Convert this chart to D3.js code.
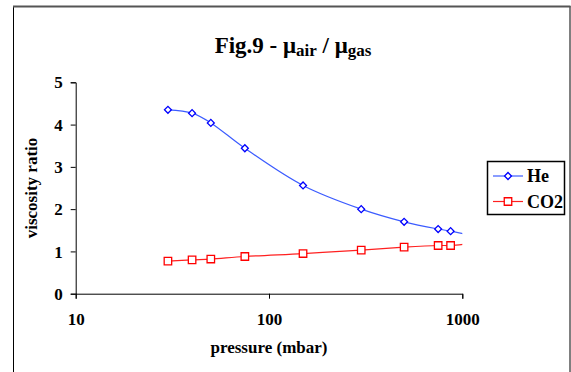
<!DOCTYPE html>
<html>
<head>
<meta charset="utf-8">
<script src="https://cdn.jsdelivr.net/npm/d3@7"></script>
<style>
  body { margin: 0; background: #fff; }
  svg text { font-family: "Liberation Serif", "Times New Roman", serif; font-weight: bold; fill: #000; }
</style>
</head>
<body>
<script>
// Data
var pressure = [30, 40, 50, 75, 150, 300, 500, 750, 870, 1013];
var heRatio  = [4.35, 4.27, 4.04, 3.44, 2.56, 2.00, 1.70, 1.53, 1.48, 1.42];
var co2Ratio = [0.77, 0.80, 0.82, 0.88, 0.95, 1.03, 1.10, 1.14, 1.14, 1.17];
var xTicks = [10, 100, 1000];
var yTicks = [0, 1, 2, 3, 4, 5];

var svgWidth = 571;
var svgHeight = 372;

var plot = { left: 75.7, right: 462.3, top: 82.3, bottom: 293.7 };

var svg = d3.select("body")
  .append("svg")
  .attr("width", svgWidth)
  .attr("height", svgHeight);

// chart frame (bottom runs off the picture)
svg.append("rect")
  .attr("x", 13.5)
  .attr("y", 6.5)
  .attr("width", 556.5)
  .attr("height", 400)
  .attr("fill", "#fff")
  .attr("stroke", "#000")
  .attr("stroke-width", 1);
svg.append("line")
  .attr("x1", 13).attr("x2", 570.5)
  .attr("y1", 6.5).attr("y2", 6.5)
  .attr("stroke", "#555").attr("stroke-width", 2);

var x = d3.scaleLog()
  .domain([10, 1000])
  .range([plot.left, plot.right]);

var y = d3.scaleLinear()
  .domain([0, 5])
  .range([plot.bottom, plot.top]);

// title
var title = svg.append("text")
  .attr("x", 293)
  .attr("y", 53)
  .attr("text-anchor", "middle")
  .style("font-size", "23px");
title.append("tspan").text("Fig.9 - \u03bc");
title.append("tspan").attr("dy", 3).style("font-size", "17px").text("air");
title.append("tspan").attr("dy", -3).text(" / \u03bc");
title.append("tspan").attr("dy", 3).style("font-size", "17px").text("gas");

// axes
var xAxis = svg.append("g")
  .attr("transform", `translate(0, ${plot.bottom})`)
  .call(d3.axisBottom(x).tickValues(xTicks).tickFormat(d3.format("d")).tickSize(5).tickPadding(14));

var yAxis = svg.append("g")
  .attr("transform", `translate(${plot.left}, 0)`)
  .call(d3.axisLeft(y).tickValues(yTicks).tickFormat(d3.format("d")).tickSize(5).tickPadding(8));

[xAxis, yAxis].forEach(function(a) {
  a.select(".domain").attr("stroke", "#000");
  a.selectAll(".tick line").attr("stroke", "#000");
  a.selectAll("text")
    .style("font-size", "17px")
    .style("font-family", "Liberation Serif, serif")
    .style("font-weight", "bold")
    .attr("fill", "#000");
});
yAxis.selectAll("text").attr("dy", "0.33em");

// axis titles
svg.append("text")
  .attr("x", 269)
  .attr("y", 353)
  .attr("text-anchor", "middle")
  .style("font-size", "17px")
  .text("pressure (mbar)");

svg.append("text")
  .attr("transform", "translate(37, 188) rotate(-90)")
  .attr("text-anchor", "middle")
  .style("font-size", "17px")
  .text("viscosity ratio");

// clip to plot area
svg.append("clipPath")
  .attr("id", "plotClip")
  .append("rect")
  .attr("x", plot.left)
  .attr("y", plot.top - 5)
  .attr("width", plot.right - plot.left)
  .attr("height", plot.bottom - plot.top + 5);

// He markers are squares turned 45 degrees, CO2 markers plain squares
var series = [
  { name: "He", values: heRatio, line: "#3c5cff", mark: "#0000ff", size: 24, rot: 45 },
  { name: "CO2", values: co2Ratio, line: "#ff2020", mark: "#ff0000", size: 56, rot: 0 }
];

var lineGen = d3.line()
  .x(function(d) { return x(d[0]); })
  .y(function(d) { return y(d[1]); })
  .curve(d3.curveCatmullRom.alpha(0.5));

var chartGroup = svg.append("g").attr("clip-path", "url(#plotClip)");

series.forEach(function(s) {
  var pts = pressure.map(function(p, i) { return [p, s.values[i]]; });

  chartGroup.append("path")
    .datum(pts)
    .attr("fill", "none")
    .attr("stroke", s.line)
    .attr("stroke-width", 1.2)
    .attr("d", lineGen);

  svg.selectAll(".mk-" + s.name)
    .data(pts.filter(function(d) { return d[0] <= 1000; }))
    .enter()
    .append("path")
    .attr("class", "mk-" + s.name)
    .attr("transform", function(d) { return `translate(${x(d[0])}, ${y(d[1])}) rotate(${s.rot})`; })
    .attr("d", d3.symbol().type(d3.symbolSquare).size(s.size))
    .attr("fill", "#fff")
    .attr("stroke", s.mark)
    .attr("stroke-width", 1.3);
});

// legend
var legend = svg.append("g");
legend.append("rect")
  .attr("x", 487.5)
  .attr("y", 161.5)
  .attr("width", 77)
  .attr("height", 53)
  .attr("fill", "#fff")
  .attr("stroke", "#000")
  .attr("stroke-width", 1.5);

series.forEach(function(s, i) {
  var ly = 176 + i * 25.5;
  legend.append("line")
    .attr("x1", 493).attr("x2", 523)
    .attr("y1", ly).attr("y2", ly)
    .attr("stroke", s.line)
    .attr("stroke-width", 1.2);
  legend.append("path")
    .attr("transform", `translate(508, ${ly}) rotate(${s.rot})`)
    .attr("d", d3.symbol().type(d3.symbolSquare).size(s.size))
    .attr("fill", "#fff")
    .attr("stroke", s.mark)
    .attr("stroke-width", 1.3);
  legend.append("text")
    .attr("x", 527)
    .attr("y", ly + 6)
    .style("font-size", "18px")
    .text(s.name);
});
</script>
</body>
</html>
